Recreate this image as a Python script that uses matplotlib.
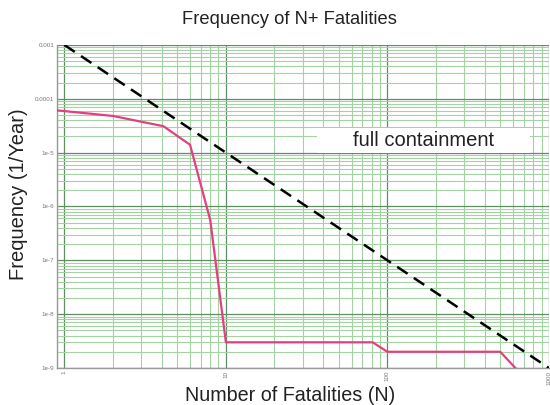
import numpy as np
import matplotlib
matplotlib.use("Agg")
import matplotlib.pyplot as plt
from matplotlib.ticker import FixedLocator, LogLocator, NullFormatter

plt.rcParams['font.family'] = ['Liberation Sans', 'DejaVu Sans']

# F-N curve
n_fatal = [0.9, 2.0, 4.1, 6.0, 8.0, 10.0, 81.0, 100.0, 500.0, 620.0]
freq = [6.1e-5, 4.8e-5, 3.1e-5, 1.4e-5, 5.6e-7, 3.0e-9, 3.0e-9, 2.0e-9, 2.0e-9, 1.0e-9]

# criterion line F = 1e-3 / N^2
crit_n = [1.0, 1000.0]
crit_f = [1e-3, 1e-9]

x_ticks = [1, 10, 100, 1000]
x_labels = ["1", "10", "100", "1000"]
y_ticks = [1e-3, 1e-4, 1e-5, 1e-6, 1e-7, 1e-8, 1e-9]
y_labels = ["0.001", "0.0001", "1e-5", "1e-6", "1e-7", "1e-8", "1e-9"]

fig = plt.figure(figsize=(5.5, 4.05), dpi=100)
ax = fig.add_axes([0.1036, 0.0914, 0.8944, 0.7976])

ax.set_xscale("log")
ax.set_yscale("log")
ax.set_xlim(0.9, 1000)
ax.set_ylim(1e-9, 1e-3)

ax.xaxis.set_major_locator(FixedLocator(x_ticks))
ax.set_xticklabels(x_labels, rotation=90, fontsize=4.5, color="#777777")
ax.xaxis.set_minor_locator(LogLocator(base=10, subs=np.arange(2, 10)))
ax.xaxis.set_minor_formatter(NullFormatter())
ax.yaxis.set_major_locator(FixedLocator(y_ticks))
ax.set_yticklabels(y_labels, fontsize=4.5, color="#777777")
ax.yaxis.set_minor_locator(LogLocator(base=10, subs=np.arange(2, 10)))
ax.yaxis.set_minor_formatter(NullFormatter())
ax.tick_params(which="both", length=0, pad=2)

ax.grid(True, which="major", color="#5e8f60", lw=0.9)
ax.grid(True, which="minor", color="#a3d3a3", lw=0.8)
ax.set_axisbelow(True)

for s in ["top", "right"]:
    ax.spines[s].set_visible(False)
for s in ["left", "bottom"]:
    ax.spines[s].set_color("#999999")
    ax.spines[s].set_linewidth(1.0)

ax.plot(crit_n, crit_f, color="black", lw=1.8, ls=(0, (5, 3)), zorder=3)
ax.plot(n_fatal, freq, color="#e4407f", lw=1.6, zorder=4)

# label box
ax.add_patch(plt.Rectangle((0.528, 0.666), 0.433, 0.077,
                           transform=ax.transAxes, fc="white", ec="none", zorder=5))
ax.text(0.745, 0.705, "full containment", transform=ax.transAxes,
        ha="center", va="center", fontsize=14.5, color="#222222", zorder=6)

fig.text(0.527, 0.953, "Frequency of N+ Fatalities", ha="center", va="center",
         fontsize=13.2, color="#222222")
fig.text(0.527, 0.024, "Number of Fatalities (N)", ha="center", va="center",
         fontsize=14.2, color="#222222")
fig.text(0.033, 0.52, "Frequency (1/Year)", ha="center", va="center",
         fontsize=14.5, rotation=90, color="#222222")

fig.savefig("out.png", dpi=100)
